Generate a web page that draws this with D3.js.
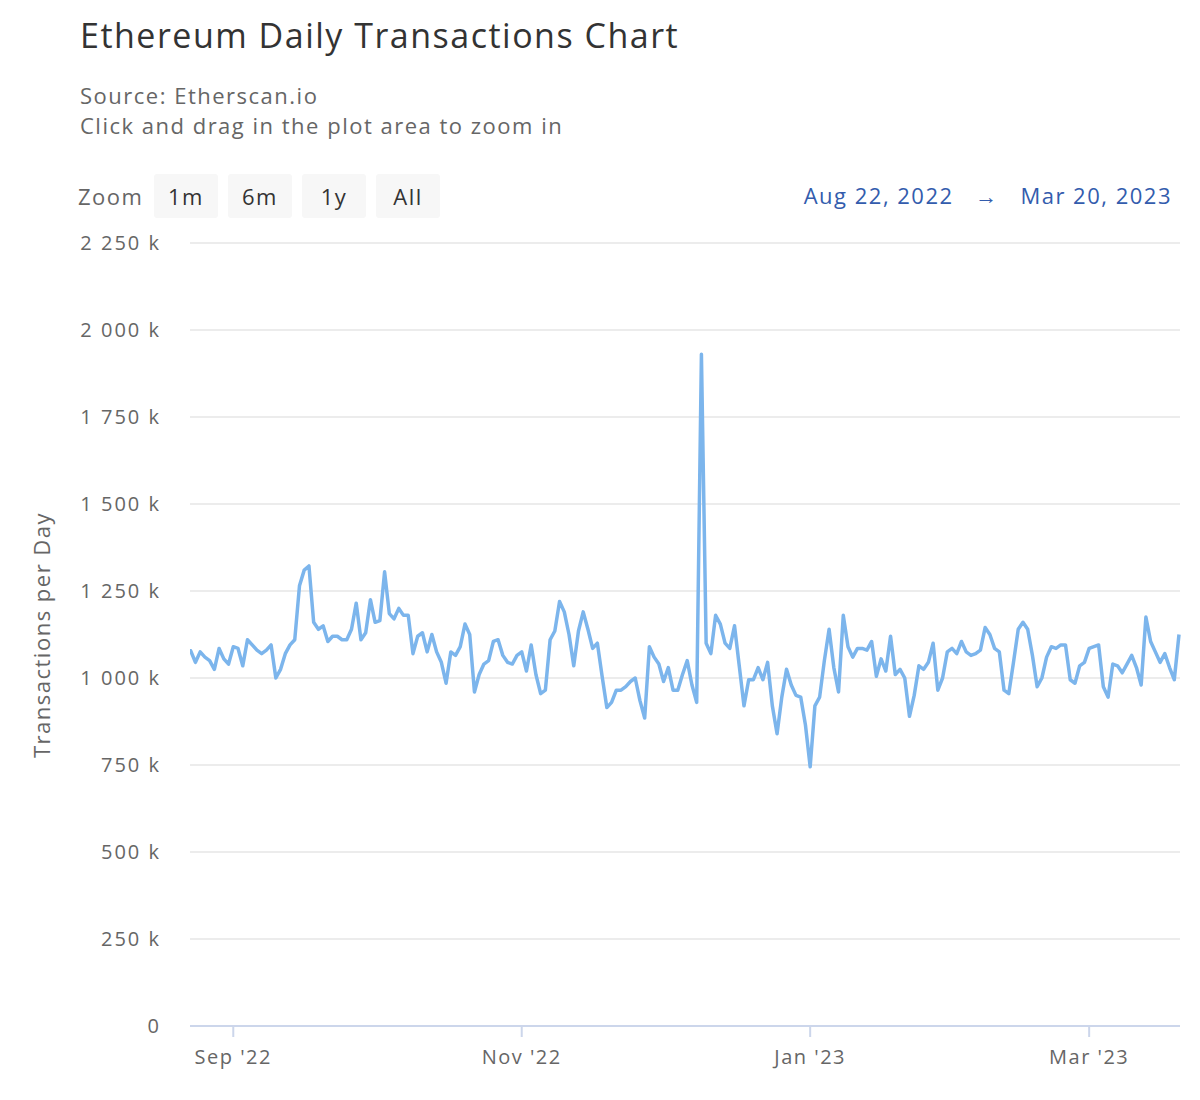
<!DOCTYPE html>
<html><head><meta charset="utf-8">
<script src="https://cdn.jsdelivr.net/npm/d3@7"></script>
<style>body{margin:0;background:#fff;font-family:"Open Sans","Noto Sans",sans-serif}</style>
</head><body><svg id="c" width="1200" height="1100"></svg>
<script>
const startDate = "2022-08-22";
const values = [1080,1078,1045,1075,1060,1050,1025,1085,1055,1040,1090,
1085,1035,1110,1095,1080,1070,1080,1095,1000,1025,1070,1095,1110,1265,1310,1322,1160,1140,1150,1105,1120,1120,1110,1110,1140,1215,1110,1130,1225,1160,
1165,1305,1185,1170,1200,1180,1180,1070,1120,1130,1075,1125,1075,1045,985,1075,1065,1090,1155,1125,960,1010,1040,1050,1105,1110,1065,1045,1040,1065,1075,
1020,1095,1010,955,965,1110,1135,1220,1190,1125,1035,1135,1190,1140,1085,1100,1005,915,930,965,965,975,990,1000,935,885,1090,1060,1040,990,
1030,965,965,1010,1050,980,930,1930,1100,1070,1180,1155,1100,1085,1150,1035,920,995,995,1030,995,1045,920,840,945,1025,980,950,945,865,745,
920,945,1050,1140,1030,960,1180,1090,1060,1085,1085,1080,1105,1005,1055,1020,1120,1010,1025,1000,890,950,1035,1025,1045,1100,965,1000,1075,1085,1070,
1105,1075,1065,1070,1080,1145,1125,1085,1075,965,955,1045,1140,1160,1140,1065,975,1000,1060,1090,1085,1095,1095,995,985,1035,1045,1085,
1090,1095,975,945,1040,1035,1015,1040,1065,1030,980,1175,1105,1075,1045,1070,1030,995,1125];
const yTicks = [0,250,500,750,1000,1250,1500,1750,2000,2250];
const xTickDates = ["2022-09-01","2022-11-01","2023-01-01","2023-03-01"];
const xTickLabels = ["Sep '22","Nov '22","Jan '23","Mar '23"];
const zoomButtons = ["1m","6m","1y","All"];

const parse = d3.utcParse("%Y-%m-%d");
const t0 = parse(startDate);
const data = values.map((v,i)=>({d:d3.utcDay.offset(t0,i), v}));
const svg = d3.select("#c").attr("letter-spacing","1.5px");
const L=190,R=1180,T=243,B=1026;
const x = d3.scaleUtc().domain([t0, parse("2023-03-20")]).range([186,1179]);
const y = d3.scaleLinear().domain([0,2250]).range([B,T]);

svg.append("defs").append("clipPath").attr("id","clip").append("rect").attr("x",L).attr("y",0).attr("width",R-L+2).attr("height",1100);

svg.append("text").attr("x",80).attr("y",48).attr("font-size",34).attr("fill","#333").text("Ethereum Daily Transactions Chart");
svg.append("text").attr("x",80).attr("y",104).attr("font-size",22).attr("fill","#666").text("Source: Etherscan.io");
svg.append("text").attr("x",80).attr("y",134).attr("font-size",22).attr("fill","#666").text("Click and drag in the plot area to zoom in");

svg.append("text").attr("x",78).attr("y",205).attr("font-size",22).attr("fill","#666").text("Zoom");
zoomButtons.forEach((b,i)=>{
  const bx=154+i*74;
  svg.append("rect").attr("x",bx).attr("y",174).attr("width",64).attr("height",44).attr("rx",3).attr("fill","#f7f7f7");
  svg.append("text").attr("x",bx+32).attr("y",205).attr("text-anchor","middle").attr("font-size",22).attr("fill","#333").text(b);
});
svg.append("text").attr("x",1172).attr("y",204).attr("text-anchor","end").attr("font-size",22).attr("fill","#335cad")
  .text("Aug 22, 2022 \u00a0 \u2192 \u00a0 Mar 20, 2023");

const g = svg.append("g");
yTicks.forEach(t=>{
  if(t>0) g.append("line").attr("x1",L).attr("x2",R).attr("y1",y(t)).attr("y2",y(t)).attr("stroke","#e6e6e6").attr("stroke-width",1.5);
  g.append("text").attr("x",161).attr("y",y(t)+7).attr("text-anchor","end").attr("font-size",20).attr("letter-spacing","2px").attr("fill","#666")
   .text(t===0?"0":d3.format(",")(t).replace(","," ")+" k");
});
svg.append("text").attr("transform","translate(50,635) rotate(-90)").attr("text-anchor","middle").attr("font-size",22).attr("fill","#666").text("Transactions per Day");

svg.append("line").attr("x1",L).attr("x2",R).attr("y1",B).attr("y2",B).attr("stroke","#ccd6eb").attr("stroke-width",2);
xTickDates.forEach((s,i)=>{
  const px=x(parse(s));
  svg.append("line").attr("x1",px).attr("x2",px).attr("y1",B).attr("y2",B+11).attr("stroke","#ccd6eb").attr("stroke-width",2);
  svg.append("text").attr("x",px).attr("y",1064).attr("text-anchor","middle").attr("font-size",20).attr("fill","#666").text(xTickLabels[i]);
});

svg.append("path").datum(data).attr("clip-path","url(#clip)").attr("fill","none").attr("stroke","#7cb5ec").attr("stroke-width",3.5).attr("stroke-linejoin","round")
  .attr("d",d3.line().x(d=>x(d.d)).y(d=>y(d.v)));
</script></body></html>
